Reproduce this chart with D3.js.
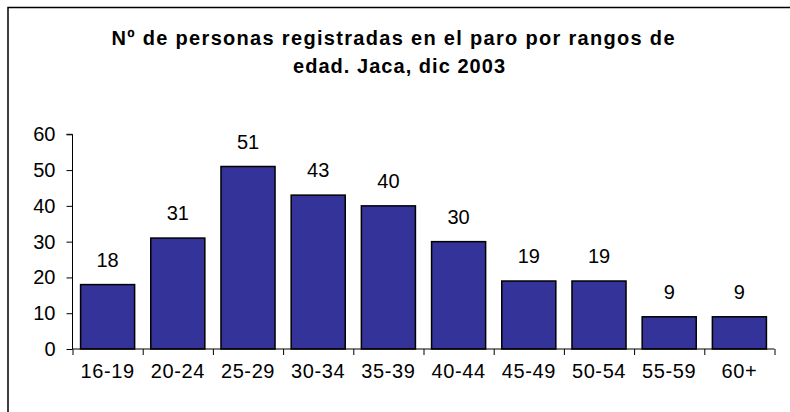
<!DOCTYPE html>
<html>
<head>
<meta charset="utf-8">
<script src="https://cdn.jsdelivr.net/npm/d3@7"></script>
<style>
  html, body { margin: 0; padding: 0; background: #fff; }
  svg { display: block; }
  text { font-family: "Liberation Sans", Arial, sans-serif; fill: #000; }
</style>
</head>
<body>
<svg id="chart" width="790" height="412"></svg>
<script>
const categories = ["16-19","20-24","25-29","30-34","35-39","40-44","45-49","50-54","55-59","60+"];
const values = [18, 31, 51, 43, 40, 30, 19, 19, 9, 9];
const yTicks = [0, 10, 20, 30, 40, 50, 60];
const titleLines = ["Nº de personas registradas en el paro por rangos de", "edad. Jaca, dic 2003"];

const svg = d3.select("#chart");

// outer frame (right/bottom edges lie outside the picture)
svg.append("rect")
  .attr("x", 8).attr("y", 7.5)
  .attr("width", 820).attr("height", 430)
  .attr("fill", "none").attr("stroke", "#000").attr("stroke-width", 1.5);

// title
const title = svg.append("g");
title.append("text")
  .attr("x", 393).attr("y", 45)
  .attr("text-anchor", "middle")
  .attr("font-size", 20).attr("font-weight", "bold")
  .attr("textLength", 563).attr("lengthAdjust", "spacing")
  .text(titleLines[0]);
title.append("text")
  .attr("x", 399).attr("y", 73)
  .attr("text-anchor", "middle")
  .attr("font-size", 20).attr("font-weight", "bold")
  .attr("textLength", 212).attr("lengthAdjust", "spacing")
  .text(titleLines[1]);

const x0 = 72.5, x1 = 774.5;
const x = d3.scaleBand().domain(categories).range([x0, x1]).paddingInner(0.23).paddingOuter(0.115);
const y = d3.scaleLinear().domain([0, 60]).range([349, 134.3]);
const edges = d3.scaleLinear().domain([0, categories.length]).range([x0, x1]);

// bars
svg.append("g").selectAll("rect")
  .data(values)
  .join("rect")
  .attr("x", (d, i) => x(categories[i]))
  .attr("y", d => y(d))
  .attr("width", x.bandwidth())
  .attr("height", d => y(0) - y(d))
  .attr("fill", "#333399")
  .attr("stroke", "#000")
  .attr("stroke-width", 1.5);

// value labels
svg.append("g").selectAll("text")
  .data(values)
  .join("text")
  .attr("x", (d, i) => x(categories[i]) + x.bandwidth() / 2)
  .attr("y", d => y(d) - 18)
  .attr("text-anchor", "middle")
  .attr("font-size", 20)
  .text(d => d);

// y axis
const yAxis = svg.append("g")
  .attr("transform", `translate(${x0},0)`)
  .call(d3.axisLeft(y).tickValues(yTicks).tickSize(6).tickPadding(11));
yAxis.selectAll("text").attr("font-size", 20).attr("font-family", null);
yAxis.select(".domain").attr("d", `M-6,${y(60)}H0V${y(0)}`);

// x axis: boundary ticks
const xTickAxis = svg.append("g")
  .attr("transform", `translate(0,${y(0)})`)
  .call(d3.axisBottom(edges).tickValues(d3.range(categories.length + 1)).tickSize(6).tickFormat(""));
xTickAxis.select(".domain").attr("d", `M${x0},0H${x1}`);

// x axis labels
const xLab = svg.append("g")
  .attr("transform", `translate(0,${y(0)})`)
  .call(d3.axisBottom(x).tickSize(0).tickPadding(15));
xLab.select(".domain").remove();
xLab.selectAll("text").attr("font-size", 20).attr("font-family", null).attr("letter-spacing", 0.6);

svg.selectAll(".tick line, .domain").attr("stroke", "#000");
</script>
</body>
</html>
